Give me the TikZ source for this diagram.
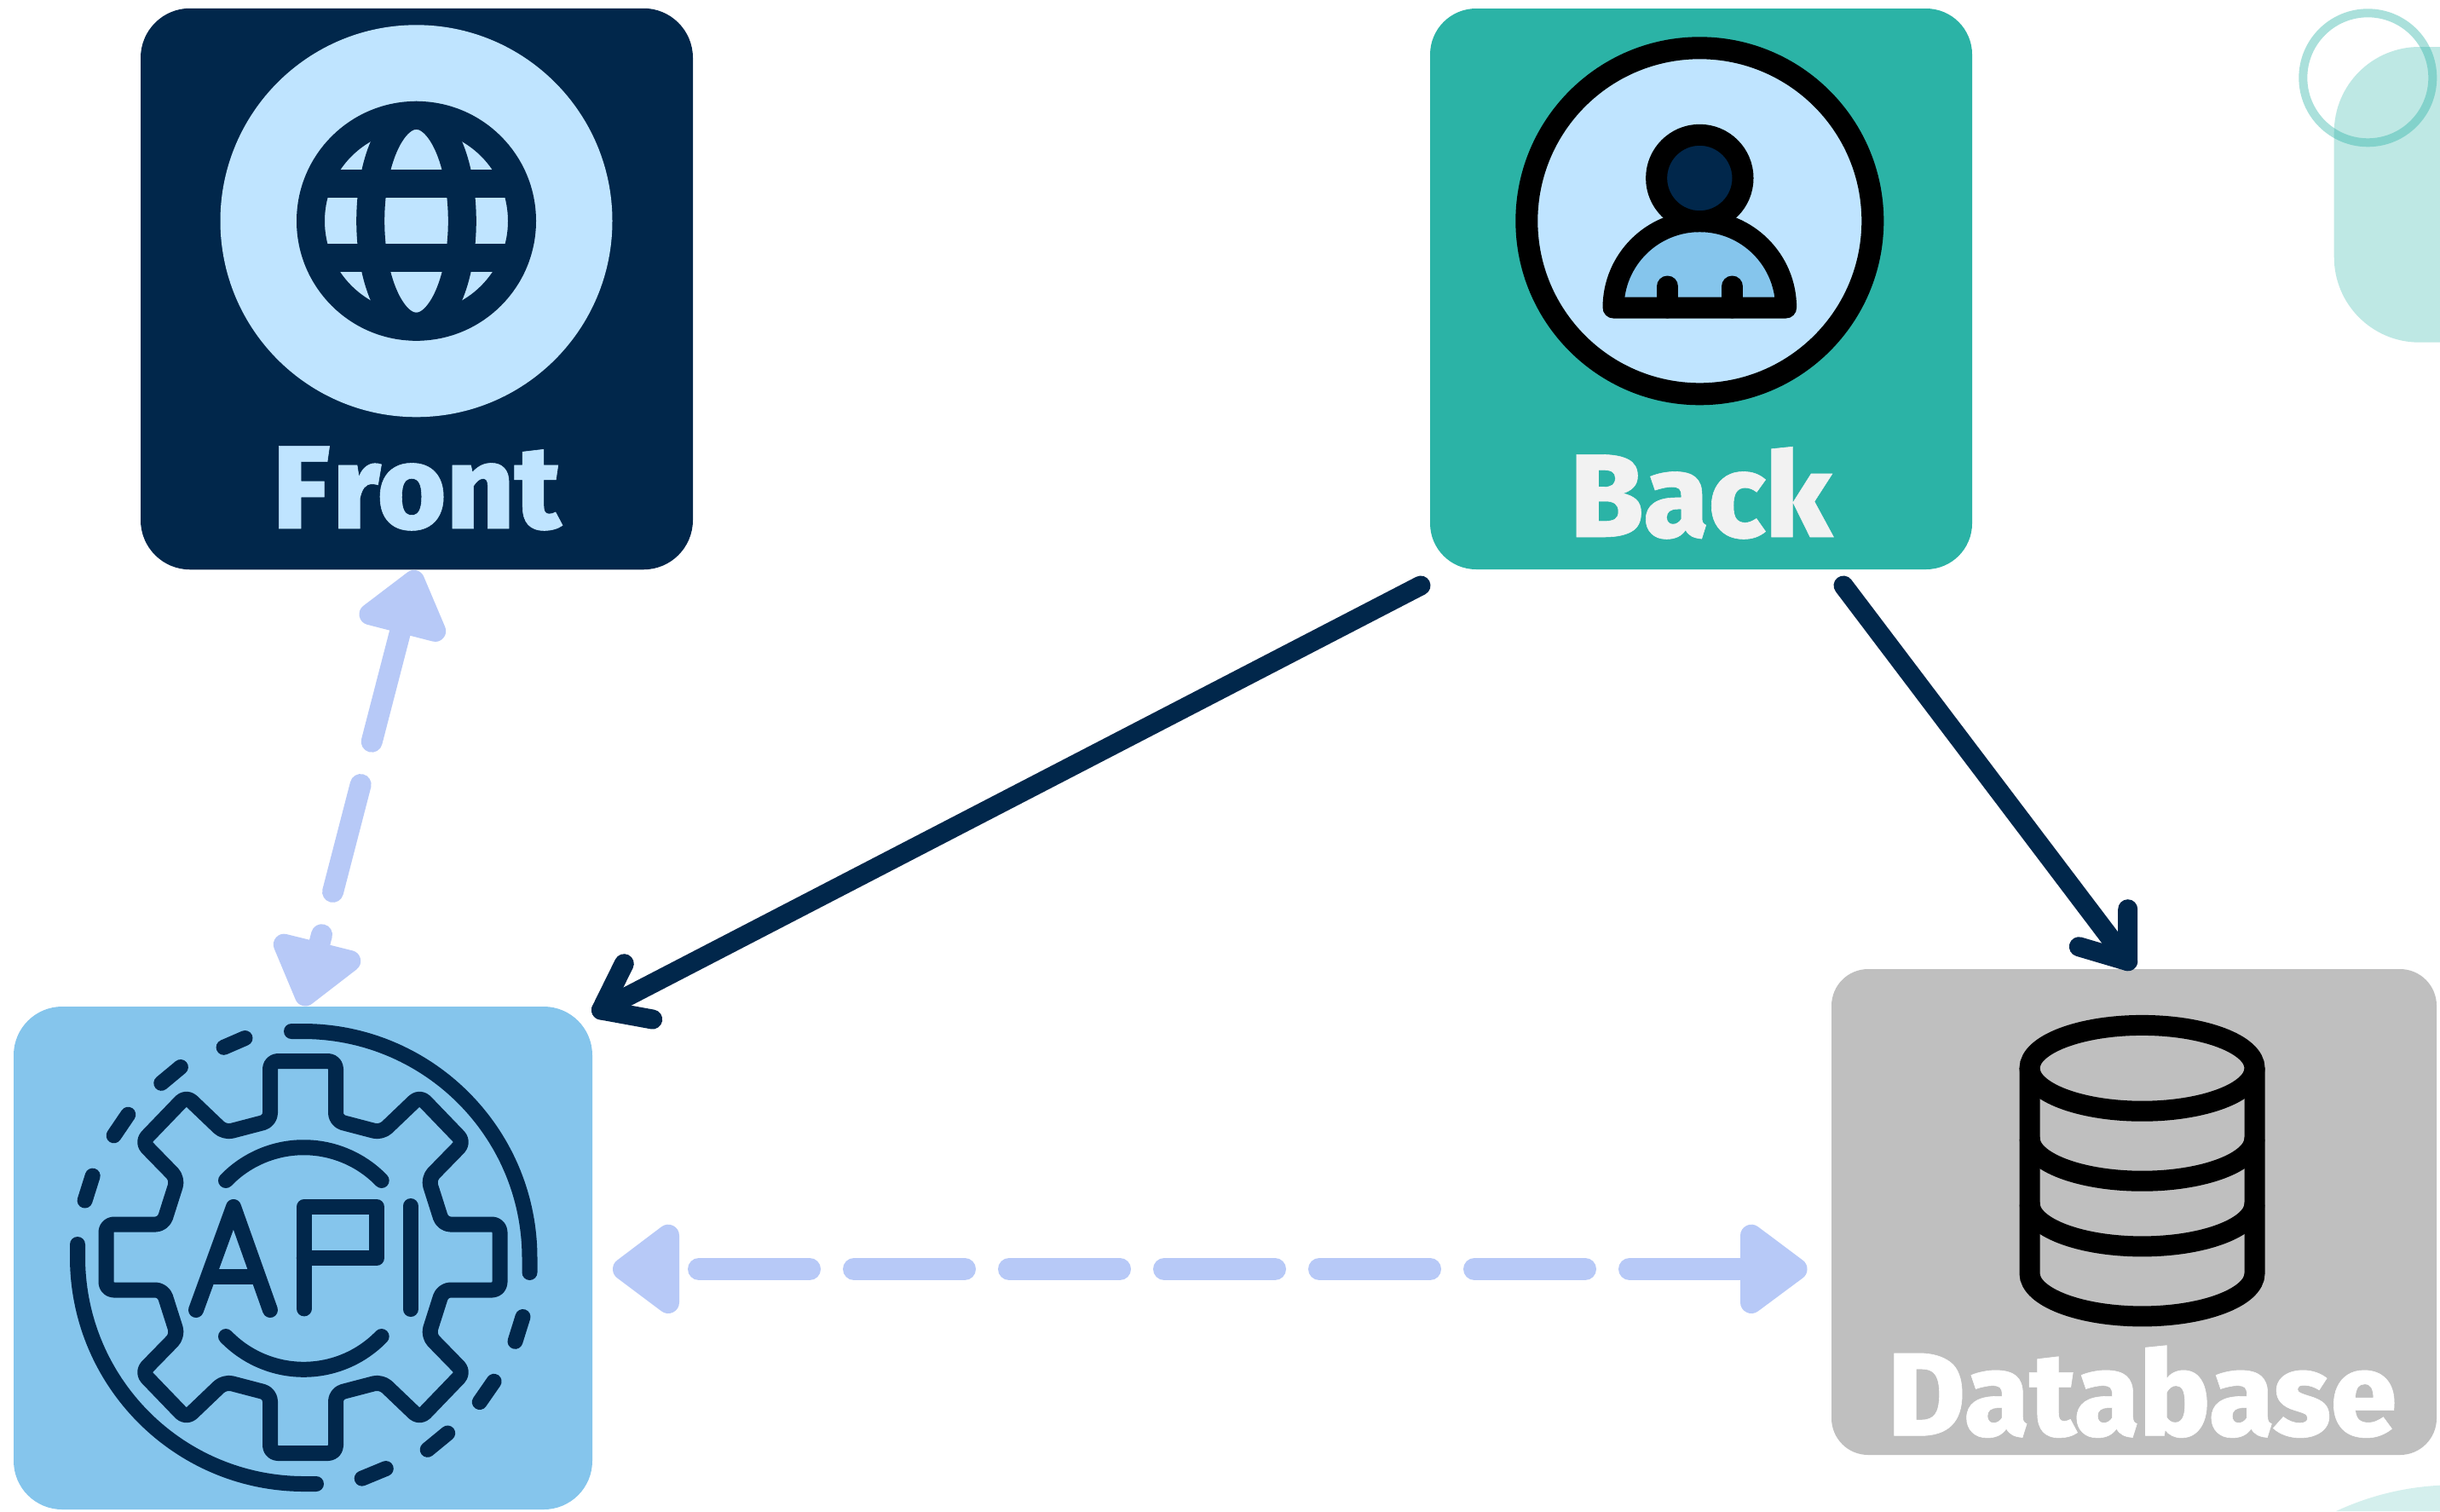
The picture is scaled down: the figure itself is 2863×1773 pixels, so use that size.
\documentclass[tikz,border=0pt]{standalone}
\usepackage{fontspec}
\newfontfamily\lab[FakeBold=0.4]{Fira Sans ExtraBold}
\definecolor{navy}{HTML}{01274B}
\definecolor{sky}{HTML}{BFE4FF}
\definecolor{teal2}{HTML}{2BB3A6}
\definecolor{apiblue}{HTML}{85C5EC}
\definecolor{dbgrey}{HTML}{BFBFBF}
\definecolor{peri}{HTML}{B7C9F7}
\tikzset{
  boxnode/.style={rectangle,inner sep=0pt,outer sep=0pt},
  labelnode/.style={inner sep=0pt,anchor=base,font=\lab\fontsize{139}{139}\selectfont},
  periline/.style={draw=peri,line width=25pt,line cap=round},
  perihead/.style={draw=peri,fill=peri,line width=25pt,line join=round},
  darkline/.style={draw=navy,line width=23pt,line cap=round,line join=round},
  gearline/.style={draw=navy,line width=18pt,line cap=round,line join=round},
  cylline/.style={draw=black,line width=24pt},
  userline/.style={draw=black,line width=25pt,line cap=round,line join=round},
}
\begin{document}
\begin{tikzpicture}[x=1pt,y=-1pt]
\useasboundingbox (0,0) rectangle (2863,1773);
\fill[white] (0,0) rectangle (2863,1773);

% decoration
\fill[teal2,fill opacity=0.3] (2863,55) -- (2838.7,55) arc[start angle=90,end angle=180,radius=100pt]
  -- (2738.7,301.7) arc[start angle=180,end angle=270,radius=100pt] -- (2863,401.7) -- cycle;
\draw[teal2,draw opacity=0.4,line width=10pt] (2778.3,91.3) circle[radius=76pt];
\fill[teal2,fill opacity=0.2] (2741,1773) .. controls (2780,1755) and (2820,1745) .. (2863,1742.7) -- (2863,1773) -- cycle;

% boxes
\node[boxnode,fill=navy,minimum width=648pt,minimum height=658.5pt,rounded corners=58pt] (front) at (489,339) {};
\node[boxnode,fill=teal2,minimum width=636pt,minimum height=658pt,rounded corners=54pt] (back) at (1996,339) {};
\node[boxnode,fill=apiblue,minimum width=679pt,minimum height=590pt,rounded corners=57pt] (api) at (355.5,1476) {};
\node[boxnode,fill=dbgrey,minimum width=710pt,minimum height=570pt,rounded corners=43pt] (db) at (2504,1422) {};

% front icon
\fill[sky] (488.5,259.3) circle[radius=230pt];
\begin{scope}[shift={(488.5,259.3)},draw=navy,line width=33pt]
  \draw (0,0) circle[radius=124pt];
  \draw (0,0) ellipse[x radius=53.8pt,y radius=124pt];
  \draw (-116,-43.6) -- (116,-43.6);
  \draw (-116,43.6) -- (116,43.6);
\end{scope}
\node[labelnode,text=sky] (frontlabel) at (489,620) {F\kern3pt ront};

% back icon
\draw[draw=black,fill=sky,line width=26pt] (1994.3,259.3) circle[radius=203pt];
\draw[userline,fill=apiblue] (1893,361) arc[start angle=180,end angle=0,radius=101.3pt] -- cycle;
\draw[userline] (1956.6,336) -- (1956.6,361);
\draw[userline] (2032.5,336) -- (2032.5,361);
\draw[userline,fill=navy] (1994.3,209) circle[radius=50.7pt];
\node[labelnode,text=white!95!black] (backlabel) at (1996,630) {Back};

% api icon
\draw[gearline,rounded corners=9pt,shift={(355.5,1475)}]
  (-38.5,-230) -- (38.5,-230) -- (38.5,-160) -- (92,-146) -- (137,-189) -- (189,-135) -- (147,-92) -- (164,-38.5)
  -- (231,-38.5) -- (231,38.5) -- (164,38.5) -- (147,92) -- (189,135) -- (137,189) -- (92,146) -- (38.5,160)
  -- (38.5,230) -- (-38.5,230) -- (-38.5,160) -- (-92,146) -- (-137,189) -- (-189,135) -- (-147,92) -- (-164,38.5)
  -- (-231,38.5) -- (-231,-38.5) -- (-164,-38.5) -- (-147,-92) -- (-189,-135) -- (-137,-189) -- (-92,-146) -- (-38.5,-160) -- cycle;
\draw[gearline] (342,1210) -- (355.5,1210) arc[start angle=90,end angle=0,radius=266pt] -- (621.5,1493);
\begin{scope}
  \clip (0,1181) rectangle (700,1751);
  \draw[gearline] (91,1460) -- (91,1475) arc[start angle=180,end angle=270,radius=266pt] -- (371,1741);
\end{scope}
\draw[gearline] (262.6,1228.8) -- (287.5,1218);
\draw[gearline] (189.3,1270.8) -- (211.9,1252);
\draw[gearline] (133.6,1332.3) -- (150.3,1307.7);
\draw[gearline] (99.6,1408.5) -- (108.7,1379.6);
\draw[gearline] (613.5,1545) -- (604.5,1573.8);
\draw[gearline] (579.6,1620.8) -- (562.8,1645);
\draw[gearline] (525.2,1681.5) -- (501.7,1700.8);
\draw[gearline] (452.8,1723) -- (424.7,1734.6);
\draw[gearline] (265,1385) arc[start angle=136,end angle=44,radius=127pt];
\draw[gearline] (265,1568) arc[start angle=224,end angle=316,radius=127pt];
\draw[gearline] (230,1537) -- (274,1416) -- (317,1537);
\draw[gearline,line cap=butt] (244.3,1497.7) -- (303.7,1497.7);
\draw[gearline] (356.8,1535.4) -- (356.8,1416) -- (442,1416) -- (442,1476) -- (356.8,1476);
\draw[gearline] (481.8,1415) -- (481.8,1536);

% database icon
\draw[cylline] (2513.5,1253.3) ellipse[x radius=132pt,y radius=50.4pt];
\draw[cylline] (2381.5,1253.3) -- (2381.5,1494) arc[start angle=180,end angle=360,x radius=132pt,y radius=50.4pt] -- (2645.5,1253.3);
\draw[cylline] (2381.5,1335.3) arc[start angle=180,end angle=360,x radius=132pt,y radius=50.4pt];
\draw[cylline] (2381.5,1412) arc[start angle=180,end angle=360,x radius=132pt,y radius=50.4pt];
\node[labelnode,text=white] (dblabel) at (2513.5,1684.4) {Database};

% connector: front <-> api
\coordinate (fa1) at (372,1118);
\coordinate (fa2) at (472.4,730.5);
\draw[periline,dash pattern=on 22pt off 52pt on 130pt off 52pt on 200pt off 10pt] (fa1) -- (fa2);
\coordinate (fatipA) at (485.7,681.4);
\coordinate (fatipB) at (434,720.7);
\coordinate (fatipC) at (510.7,740.4);
\draw[perihead] (fatipA) -- (fatipB) -- (fatipC) -- cycle;
\coordinate (fbtipA) at (358.3,1167.9);
\coordinate (fbtipB) at (333.3,1108.2);
\coordinate (fbtipC) at (410.7,1127.5);
\draw[perihead] (fbtipA) -- (fbtipB) -- (fbtipC) -- cycle;

% connector: api <-> database
\coordinate (ad1) at (820,1489);
\coordinate (ad2) at (2055,1489);
\draw[periline,line width=26pt,dash pattern=on 130pt off 52pt] (ad1) -- (ad2);
\coordinate (altipA) at (732,1489);
\coordinate (altipB) at (784,1449.7);
\coordinate (altipC) at (784,1528);
\draw[perihead,line width=26pt] (altipA) -- (altipB) -- (altipC) -- cycle;
\coordinate (artipA) at (2107.5,1489);
\coordinate (artipB) at (2055,1449.7);
\coordinate (artipC) at (2055,1528);
\draw[perihead,line width=26pt] (artipA) -- (artipB) -- (artipC) -- cycle;

% connector: back -> api
\coordinate (ba1) at (1667,687);
\coordinate (ba2) at (705.5,1185);
\coordinate (bab1) at (732.3,1130.7);
\coordinate (bab2) at (765.7,1196);
\draw[darkline] (ba1) -- (ba2);
\draw[darkline] (bab1) -- (ba2) -- (bab2);

% connector: back -> database
\coordinate (bd1) at (2163,687);
\coordinate (bd2) at (2496.7,1127.7);
\coordinate (bdb1) at (2496.7,1066.7);
\coordinate (bdb2) at (2439.3,1110.7);
\draw[darkline] (bd1) -- (bd2);
\draw[darkline] (bdb1) -- (bd2) -- (bdb2);
\end{tikzpicture}
\end{document}
